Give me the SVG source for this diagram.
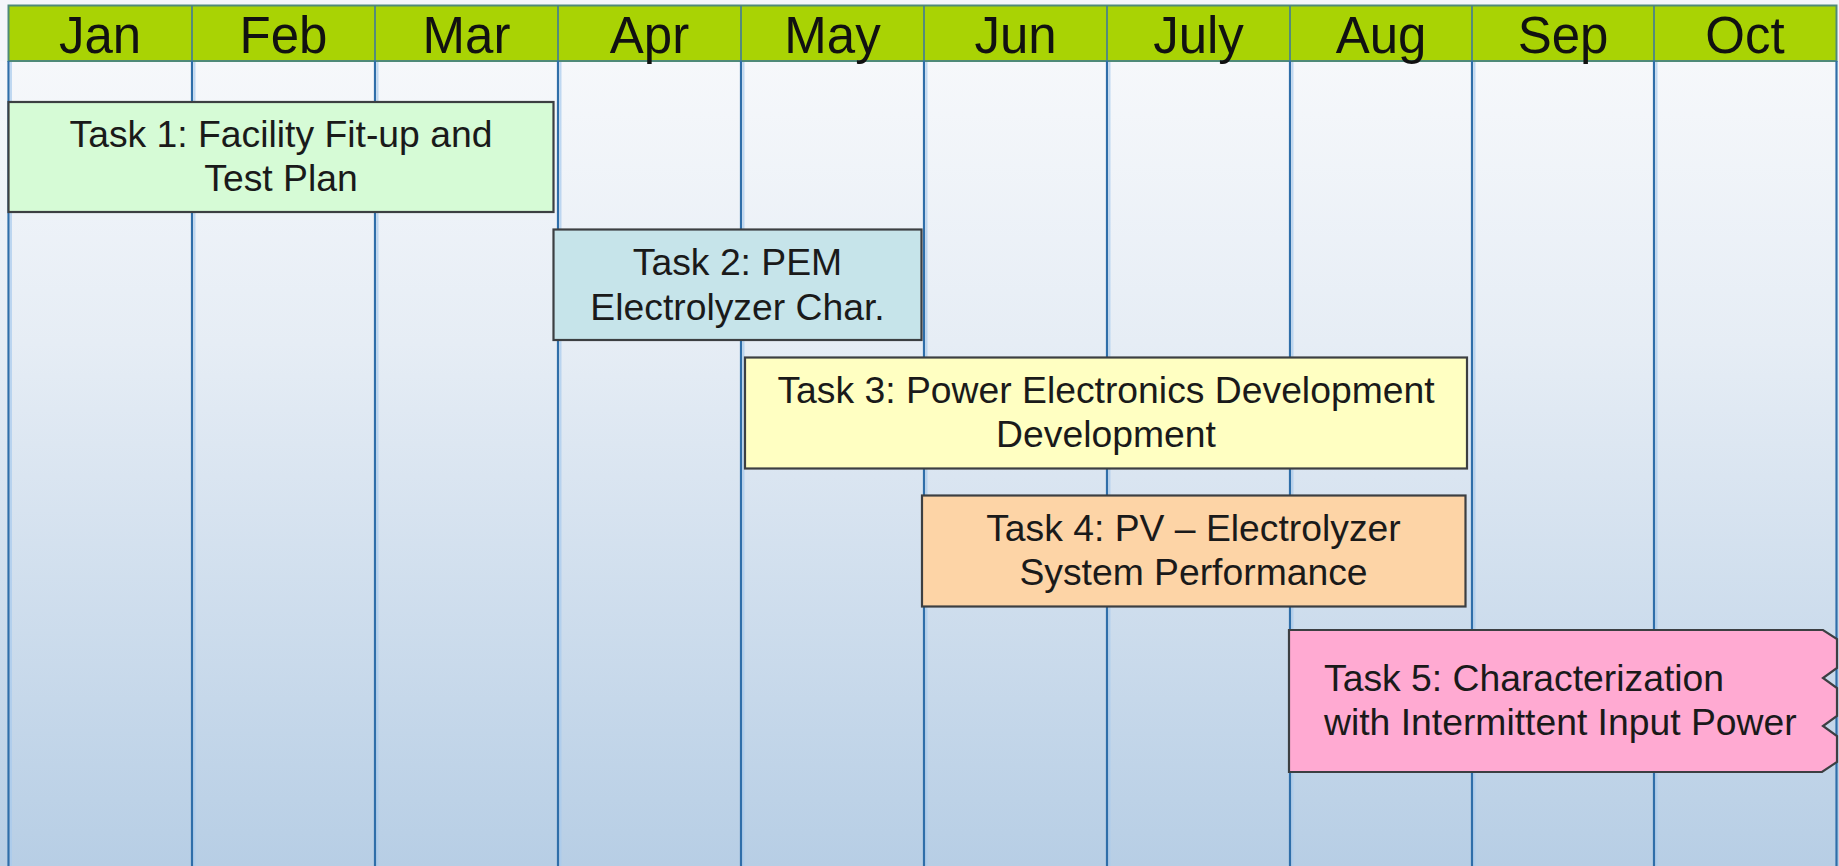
<svg xmlns="http://www.w3.org/2000/svg" width="1839" height="866" viewBox="0 0 1839 866">
  <defs>
    <linearGradient id="bodyGrad" x1="0" y1="0" x2="0" y2="1">
      <stop offset="0" stop-color="#f6f8fb"/>
      <stop offset="0.35" stop-color="#e6edf5"/>
      <stop offset="1" stop-color="#b7cee5"/>
    </linearGradient>
    <style>
      .month { font-family: "Liberation Sans", Arial, sans-serif; font-size: 51px; fill: #111; text-anchor: middle; }
      .task { font-family: "Liberation Sans", Arial, sans-serif; font-size: 37.3px; fill: #1a1a1a; text-anchor: middle; }
      .box { stroke: #3c3f42; stroke-width: 2.2; }
      .col { stroke: #2f6ea9; stroke-width: 2.2; }
      .colhi { stroke: #a9cbee; stroke-width: 2; opacity: 0.7; }
      .hdiv { stroke: #3f7a9a; stroke-width: 1.6; }
    </style>
  </defs>

  <!-- background -->
  <rect x="0" y="0" width="1839" height="866" fill="#f4f6fa"/>
  <rect x="0" y="61" width="1839" height="805" fill="url(#bodyGrad)"/>

  <!-- header -->
  <g id="header">
    <rect x="8.5" y="5.5" width="1828" height="55.5" fill="#a9d304" stroke="#4f8a78" stroke-width="2"/>
    <g class="hdiv-lines">
      <line class="hdiv" x1="192" y1="6" x2="192" y2="61"/>
      <line class="hdiv" x1="375" y1="6" x2="375" y2="61"/>
      <line class="hdiv" x1="558" y1="6" x2="558" y2="61"/>
      <line class="hdiv" x1="741" y1="6" x2="741" y2="61"/>
      <line class="hdiv" x1="924" y1="6" x2="924" y2="61"/>
      <line class="hdiv" x1="1107" y1="6" x2="1107" y2="61"/>
      <line class="hdiv" x1="1290" y1="6" x2="1290" y2="61"/>
      <line class="hdiv" x1="1472" y1="6" x2="1472" y2="61"/>
      <line class="hdiv" x1="1654" y1="6" x2="1654" y2="61"/>
    </g>
    <text class="month" x="100" y="53">Jan</text>
    <text class="month" x="283.5" y="53">Feb</text>
    <text class="month" x="466.5" y="53">Mar</text>
    <text class="month" x="649.5" y="53">Apr</text>
    <text class="month" x="832.5" y="53">May</text>
    <text class="month" x="1015.5" y="53">Jun</text>
    <text class="month" x="1198.5" y="53">July</text>
    <text class="month" x="1381" y="53">Aug</text>
    <text class="month" x="1563" y="53">Sep</text>
    <text class="month" x="1745" y="53">Oct</text>
  </g>

  <!-- column lines -->
  <g id="columns">
    <line class="colhi" x1="11" y1="62" x2="11" y2="866"/>
    <line class="colhi" x1="194.5" y1="62" x2="194.5" y2="866"/>
    <line class="colhi" x1="377.5" y1="62" x2="377.5" y2="866"/>
    <line class="colhi" x1="560.5" y1="62" x2="560.5" y2="866"/>
    <line class="colhi" x1="743.5" y1="62" x2="743.5" y2="866"/>
    <line class="colhi" x1="926.5" y1="62" x2="926.5" y2="866"/>
    <line class="colhi" x1="1109.5" y1="62" x2="1109.5" y2="866"/>
    <line class="colhi" x1="1292.5" y1="62" x2="1292.5" y2="866"/>
    <line class="colhi" x1="1474.5" y1="62" x2="1474.5" y2="866"/>
    <line class="colhi" x1="1656.5" y1="62" x2="1656.5" y2="866"/>
    <line class="col" x1="8.5" y1="61" x2="8.5" y2="866"/>
    <line class="col" x1="192" y1="61" x2="192" y2="866"/>
    <line class="col" x1="375" y1="61" x2="375" y2="866"/>
    <line class="col" x1="558" y1="61" x2="558" y2="866"/>
    <line class="col" x1="741" y1="61" x2="741" y2="866"/>
    <line class="col" x1="924" y1="61" x2="924" y2="866"/>
    <line class="col" x1="1107" y1="61" x2="1107" y2="866"/>
    <line class="col" x1="1290" y1="61" x2="1290" y2="866"/>
    <line class="col" x1="1472" y1="61" x2="1472" y2="866"/>
    <line class="col" x1="1654" y1="61" x2="1654" y2="866"/>
    <line class="col" x1="1836.5" y1="61" x2="1836.5" y2="866"/>
  </g>

  <!-- tasks -->
  <g id="task1">
    <rect class="box" x="8.5" y="102" width="545" height="110" fill="#d6fbd6"/>
    <text class="task" x="281" y="147">Task 1: Facility Fit-up and</text>
    <text class="task" x="281" y="191">Test Plan</text>
  </g>

  <g id="task2">
    <rect class="box" x="553.5" y="229.5" width="368" height="110.5" fill="#c6e4ea"/>
    <text class="task" x="737.5" y="275">Task 2: PEM</text>
    <text class="task" x="737.5" y="320">Electrolyzer Char.</text>
  </g>

  <g id="task3">
    <rect class="box" x="745" y="357.5" width="722" height="111" fill="#ffffc2"/>
    <text class="task" x="1106" y="403">Task 3: Power Electronics Development</text>
    <text class="task" x="1106" y="447">Development</text>
  </g>

  <g id="task4">
    <rect class="box" x="922" y="495.5" width="543.5" height="111" fill="#fdd4a6"/>
    <text class="task" x="1193.5" y="541">Task 4: PV – Electrolyzer</text>
    <text class="task" x="1193.5" y="585">System Performance</text>
  </g>

  <g id="task5">
    <path class="box" d="M1289,630 L1823,630 L1837,639 L1837,668 L1823,678 L1837,688 L1837,716 L1823,726 L1837,736 L1837,762 L1822,772 L1289,772 Z" fill="#ffaad2"/>
    <text class="task" x="1324" y="691" style="text-anchor:start">Task 5: Characterization</text>
    <text class="task" x="1324" y="735" style="text-anchor:start">with Intermittent Input Power</text>
  </g>
</svg>
